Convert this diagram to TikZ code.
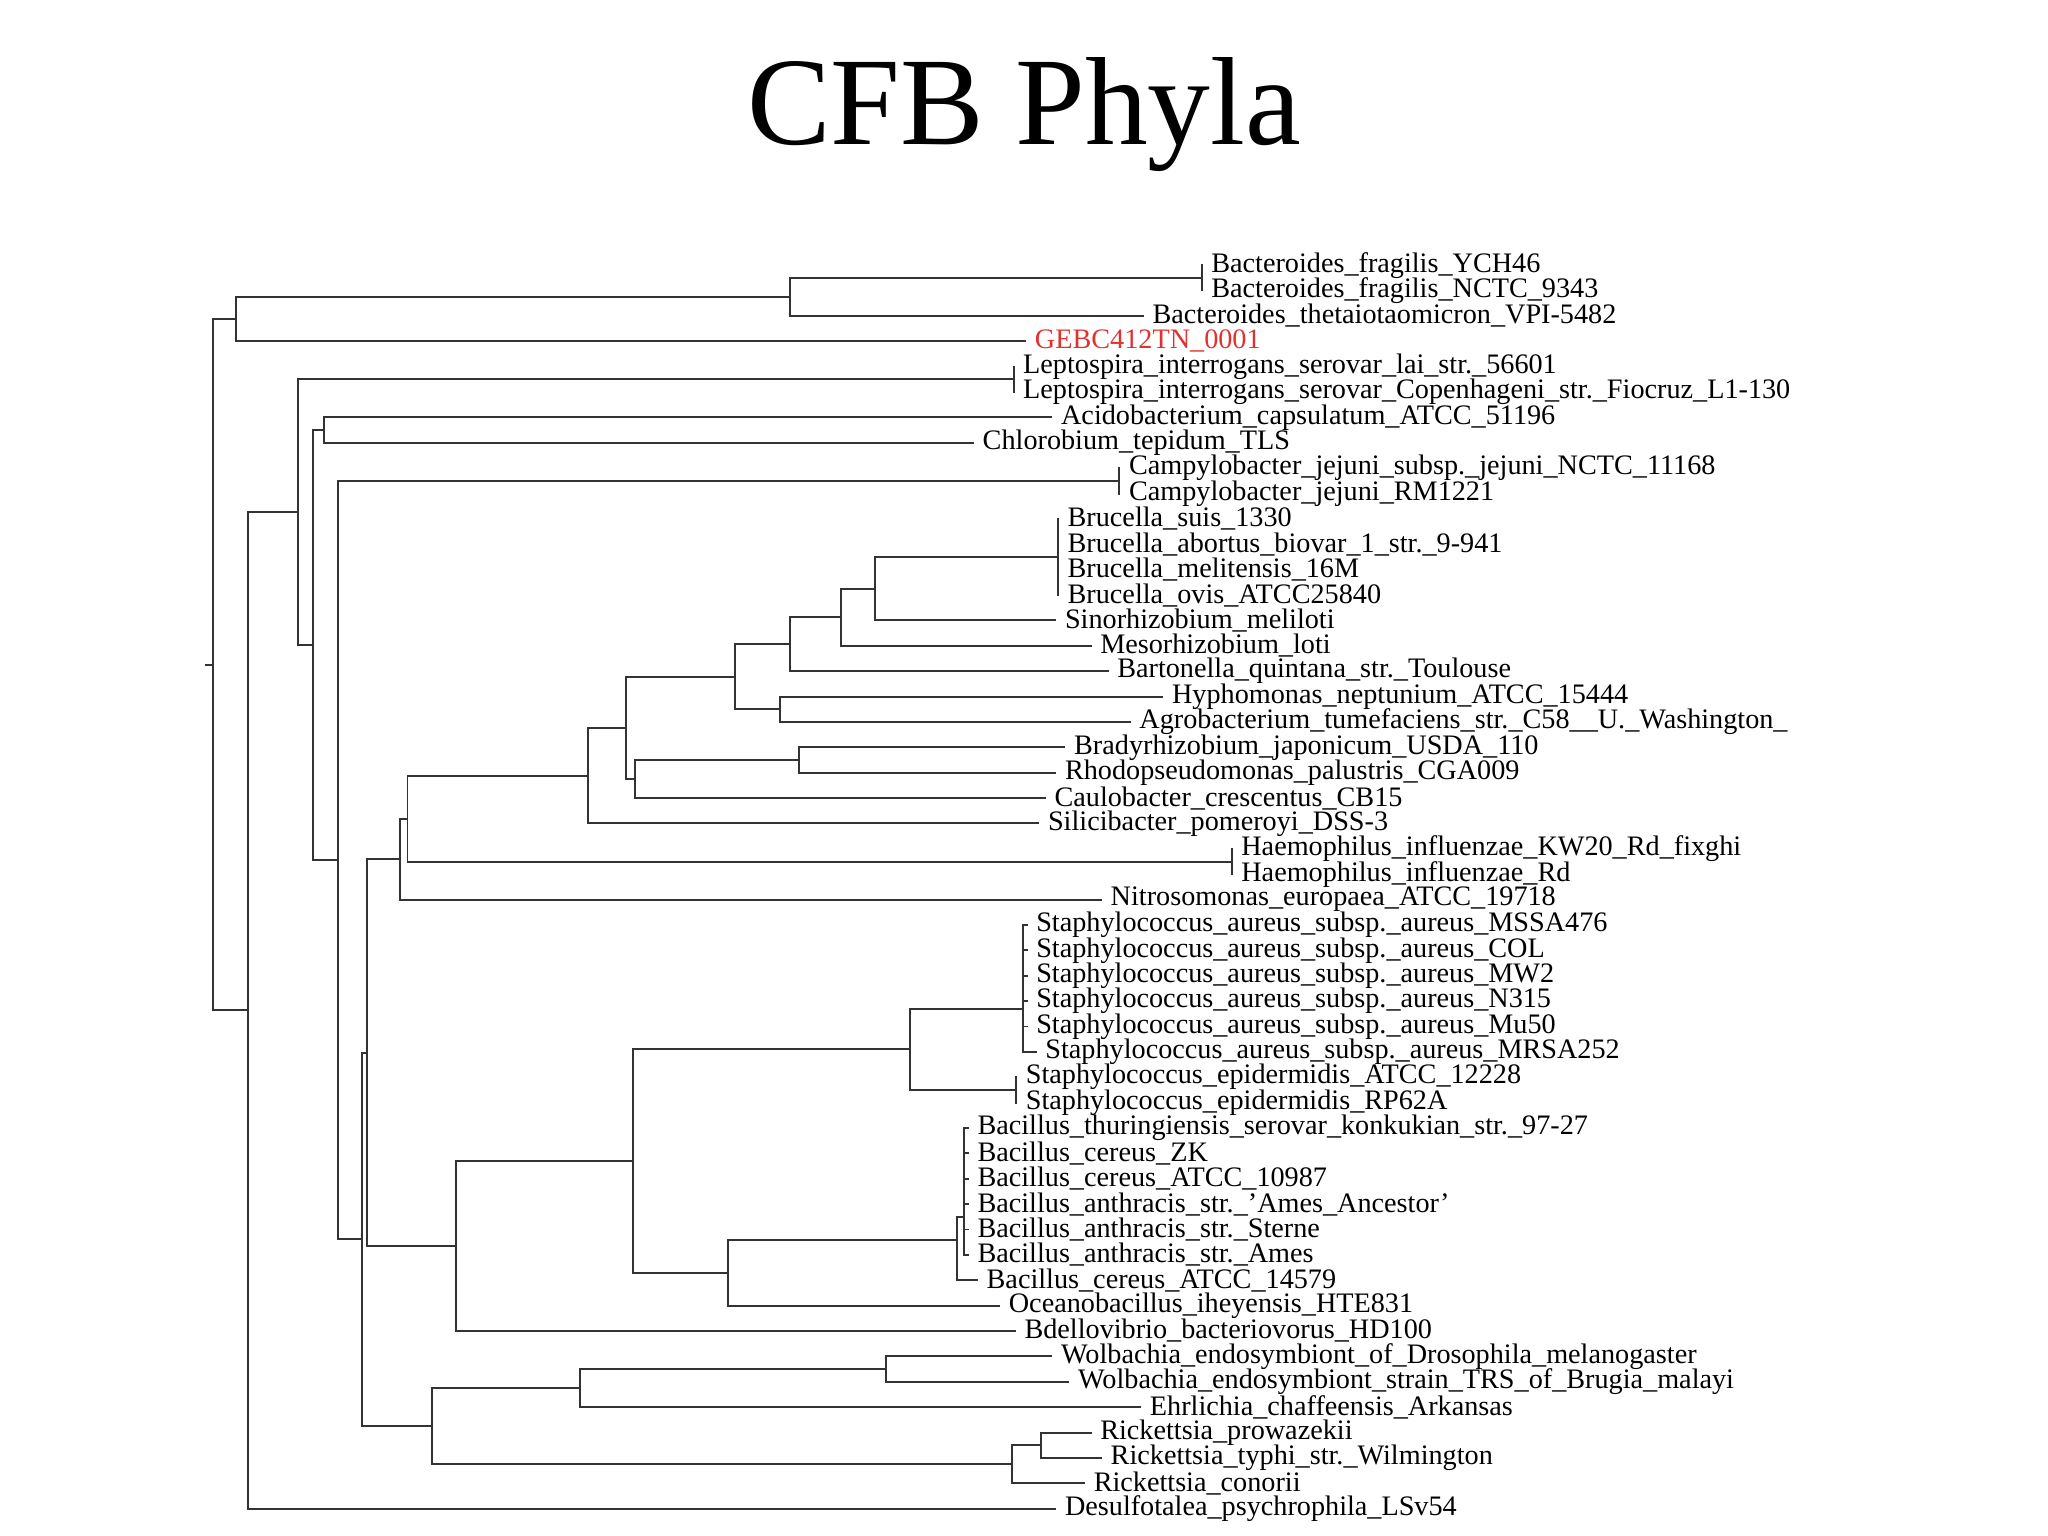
\documentclass[tikz,border=0pt]{standalone}
\usepackage{fontspec}
\setmainfont{Liberation Serif}
\usetikzlibrary{calc}
\definecolor{gebc}{RGB}{225,50,50}
\newcommand\lf[4]{\coordinate (#1) at (#3,{-203-19.43*(#2)}); \node[lbl] (#1t) at (#1) {#4};}
\newcommand\inode[4]{\path let \p1=($(#3)!.5!(#4)$) in coordinate (#1) at ({#2*0.5pt},\y1); \draw[br] (#1) |- (#3); \draw[br] (#1) |- (#4);}
\newcommand\pairbar[3]{\coordinate (#1) at ($(#2)!.5!(#3)$); \draw[br] (#2) -- (#3);}
\begin{document}
\begin{tikzpicture}[x=0.5pt,y=0.5pt,
  lbl/.style={anchor=west,inner sep=0pt,xshift=3.5pt,font=\fontsize{10.8}{10.8}\selectfont},
  br/.style={line width=0.75pt,black!80,line cap=rect}]
\useasboundingbox (0,0) rectangle (1568,-1176);
\node[font=\fontsize{48}{48}\selectfont] (title) at (784,-88) {CFB Phyla};
\lf{l0}{0}{920}{Bacteroides\_fragilis\_YCH46}
\lf{l1}{1}{920}{Bacteroides\_fragilis\_NCTC\_9343}
\lf{l2}{2}{875}{Bacteroides\_thetaiotaomicron\_VPI-5482}
\lf{l3}{3}{785}{\textcolor{gebc}{GEBC412TN\_0001}}
\lf{l4}{4}{776}{Leptospira\_interrogans\_serovar\_lai\_str.\_56601}
\lf{l5}{5}{776}{Leptospira\_interrogans\_serovar\_Copenhageni\_str.\_Fiocruz\_L1-130}
\lf{l6}{6}{805}{Acidobacterium\_capsulatum\_ATCC\_51196}
\lf{l7}{7}{745}{Chlorobium\_tepidum\_TLS}
\lf{l8}{8}{857}{Campylobacter\_jejuni\_subsp.\_jejuni\_NCTC\_11168}
\lf{l9}{9}{857}{Campylobacter\_jejuni\_RM1221}
\lf{l10}{10}{810}{Brucella\_suis\_1330}
\lf{l11}{11}{810}{Brucella\_abortus\_biovar\_1\_str.\_9-941}
\lf{l12}{12}{810}{Brucella\_melitensis\_16M}
\lf{l13}{13}{810}{Brucella\_ovis\_ATCC25840}
\lf{l14}{14}{808}{Sinorhizobium\_meliloti}
\lf{l15}{15}{835}{Mesorhizobium\_loti}
\lf{l16}{16}{848}{Bartonella\_quintana\_str.\_Toulouse}
\lf{l17}{17}{890}{Hyphomonas\_neptunium\_ATCC\_15444}
\lf{l18}{18}{865}{Agrobacterium\_tumefaciens\_str.\_C58\_\_U.\_Washington\_}
\lf{l19}{19}{815}{Bradyrhizobium\_japonicum\_USDA\_110}
\lf{l20}{20}{808}{Rhodopseudomonas\_palustris\_CGA009}
\lf{l21}{21}{800}{Caulobacter\_crescentus\_CB15}
\lf{l22}{22}{795}{Silicibacter\_pomeroyi\_DSS-3}
\lf{l23}{23}{943}{Haemophilus\_influenzae\_KW20\_Rd\_fixghi}
\lf{l24}{24}{943}{Haemophilus\_influenzae\_Rd}
\lf{l25}{25}{843}{Nitrosomonas\_europaea\_ATCC\_19718}
\lf{l26}{26}{786}{Staphylococcus\_aureus\_subsp.\_aureus\_MSSA476}
\lf{l27}{27}{786}{Staphylococcus\_aureus\_subsp.\_aureus\_COL}
\lf{l28}{28}{786}{Staphylococcus\_aureus\_subsp.\_aureus\_MW2}
\lf{l29}{29}{786}{Staphylococcus\_aureus\_subsp.\_aureus\_N315}
\lf{l30}{30}{786}{Staphylococcus\_aureus\_subsp.\_aureus\_Mu50}
\lf{l31}{31}{793}{Staphylococcus\_aureus\_subsp.\_aureus\_MRSA252}
\lf{l32}{32}{778}{Staphylococcus\_epidermidis\_ATCC\_12228}
\lf{l33}{33}{778}{Staphylococcus\_epidermidis\_RP62A}
\lf{l34}{34}{741}{Bacillus\_thuringiensis\_serovar\_konkukian\_str.\_97-27}
\lf{l35}{35}{741}{Bacillus\_cereus\_ZK}
\lf{l36}{36}{741}{Bacillus\_cereus\_ATCC\_10987}
\lf{l37}{37}{741}{Bacillus\_anthracis\_str.\_'Ames\_Ancestor'}
\lf{l38}{38}{741}{Bacillus\_anthracis\_str.\_Sterne}
\lf{l39}{39}{741}{Bacillus\_anthracis\_str.\_Ames}
\lf{l40}{40}{748}{Bacillus\_cereus\_ATCC\_14579}
\lf{l41}{41}{765}{Oceanobacillus\_iheyensis\_HTE831}
\lf{l42}{42}{777}{Bdellovibrio\_bacteriovorus\_HD100}
\lf{l43}{43}{805}{Wolbachia\_endosymbiont\_of\_Drosophila\_melanogaster}
\lf{l44}{44}{818}{Wolbachia\_endosymbiont\_strain\_TRS\_of\_Brugia\_malayi}
\lf{l45}{45}{873}{Ehrlichia\_chaffeensis\_Arkansas}
\lf{l46}{46}{835}{Rickettsia\_prowazekii}
\lf{l47}{47}{843}{Rickettsia\_typhi\_str.\_Wilmington}
\lf{l48}{48}{830}{Rickettsia\_conorii}
\lf{l49}{49}{808}{Desulfotalea\_psychrophila\_LSv54}
% internal nodes
\pairbar{bf}{l0}{l1}
\inode{a1n}{605}{bf}{l2}
\inode{An}{181}{a1n}{l3}
\pairbar{lep}{l4}{l5}
\inode{En}{248}{l6}{l7}
\pairbar{cam}{l8}{l9}
\pairbar{bru}{l10}{l13}
\inode{a6}{670}{bru}{l14}
\inode{a5}{644}{a6}{l15}
\inode{a4}{605}{a5}{l16}
\inode{ha}{597}{l17}{l18}
\inode{a2}{563}{a4}{ha}
\inode{brr}{612}{l19}{l20}
\inode{a3}{486}{brr}{l21}
\inode{a1}{479}{a2}{a3}
\inode{alpha}{450}{a1}{l22}
\pairbar{hae}{l23}{l24}
\inode{Ln}{312}{alpha}{hae}
\inode{Jn}{306}{Ln}{l25}
% Staphylococcus aureus
\coordinate (sat) at (783,{-203-19.43*26});
\coordinate (sab) at (783,{-203-19.43*31});
\coordinate (sa) at (783,{-203-19.43*29.3});
\draw[br] (sat) -- (sab);
\foreach \k in {26,...,31}{\draw[br] (l\k) -- (l\k -| sat);}
\pairbar{sep}{l32}{l33}
\inode{st}{697}{sa}{sep}
% Bacillus
\coordinate (bat) at (738,{-203-19.43*34});
\coordinate (bab) at (738,{-203-19.43*39});
\coordinate (bam) at (738,{-203-19.43*37.5});
\coordinate (bacn) at (733,{-203-19.43*38.4});
\draw[br] (bat) -- (bab);
\foreach \k in {34,...,39}{\draw[br] (l\k) -- (l\k -| bat);}
\draw[br] (bam) -- ++(-5,0) |- (l40);
\inode{bo}{557}{bacn}{l41}
\inode{fi}{485}{st}{bo}
\inode{Kn}{349}{fi}{l42}
\inode{In}{281}{Jn}{Kn}
\inode{wo}{678}{l43}{l44}
\inode{we}{444}{wo}{l45}
\inode{r1}{797}{l46}{l47}
\inode{ri}{775}{r1}{l48}
\inode{Wn}{331}{we}{ri}
\inode{Hn}{277}{In}{Wn}
\inode{Fn}{259}{cam}{Hn}
\inode{Dn}{240}{En}{Fn}
\inode{Cn}{228}{lep}{Dn}
\inode{Bn}{190}{Cn}{l49}
\inode{root}{163}{An}{Bn}
\draw[br] (root) -- ++(-5,0);
\end{tikzpicture}
\end{document}
